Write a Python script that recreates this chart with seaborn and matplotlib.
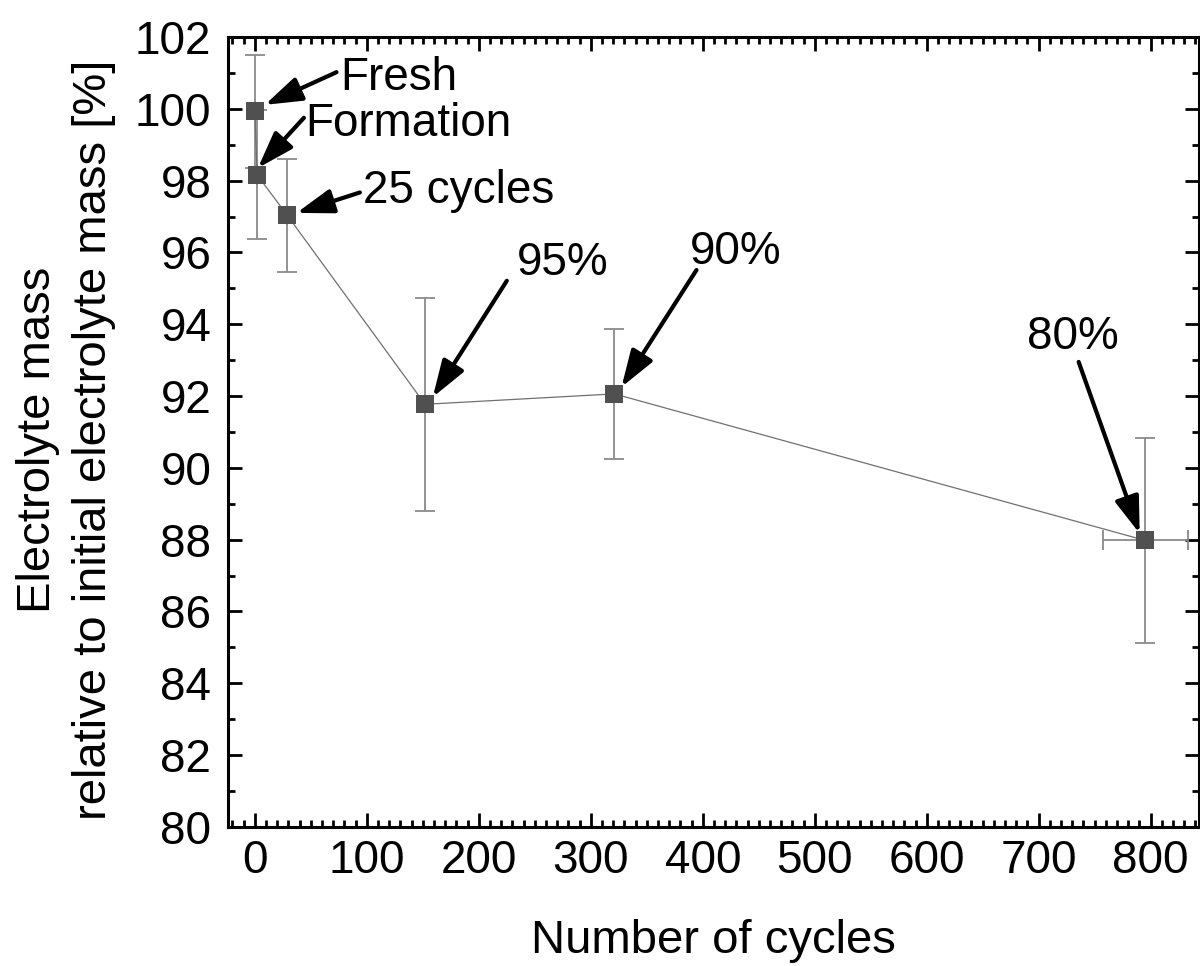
import matplotlib
matplotlib.use("Agg")
import matplotlib.pyplot as plt
from matplotlib.ticker import MultipleLocator
import seaborn as sns
import pandas as pd

# Measured electrolyte mass over ageing (mean and spread)
cycles = [0, 2, 29, 152, 321, 795]
mass_pct = [99.93, 98.16, 97.03, 91.77, 92.06, 87.98]
mass_err = [1.57, 1.80, 1.58, 2.96, 1.80, 2.85]
cycles_err = [0, 0, 0, 0, 0, 38]

# Labels attached to each state, with text and arrow-tail positions (data units)
state_labels = ["Fresh", "Formation", "25 cycles", "95%", "90%", "80%"]
label_pos = [(75.9, 100.86), (44.6, 99.58), (96.7, 97.71),
             (233.6, 95.70), (388.4, 96.01), (690.0, 93.64)]
arrow_tail = [(72.9, 101.02), (43.8, 99.75), (93.8, 97.67),
              (225.0, 95.21), (394.4, 95.51), (735.7, 92.95)]
arrow_head = [(8.9, 100.11), (2.7, 98.35), (37.2, 97.10),
              (158.9, 91.97), (327.4, 92.25), (790.2, 88.17)]

df = pd.DataFrame({"cycles": cycles, "mass": mass_pct})

sns.set_theme(style="ticks")
plt.rcParams["font.family"] = ["Liberation Sans", "DejaVu Sans"]
plt.rcParams["text.color"] = "black"
plt.rcParams["axes.labelcolor"] = "black"
plt.rcParams["xtick.color"] = "black"
plt.rcParams["ytick.color"] = "black"

fig = plt.figure(figsize=(12, 9.66), dpi=100)
ax = fig.add_axes([0.19, 0.144, 0.809, 0.8177])

ax.errorbar(cycles, mass_pct, yerr=mass_err, xerr=cycles_err, fmt="none",
            ecolor="#8a8a8a", elinewidth=1.3, capsize=7, capthick=1.3, zorder=2)
sns.lineplot(data=df, x="cycles", y="mass", ax=ax, color="#707070", lw=0.9,
             marker="s", markersize=12.5, markerfacecolor="#505050",
             markeredgecolor="#505050", markeredgewidth=0, sort=False, zorder=3)

for txt, tp, tail, head in zip(state_labels, label_pos, arrow_tail, arrow_head):
    ax.text(tp[0], tp[1], txt, fontsize=33, ha="left", va="center",
            color="black", zorder=5)
    ax.annotate("", xy=head, xytext=tail,
                arrowprops=dict(arrowstyle="-|>,head_length=0.75,head_width=0.25",
                                color="black", lw=3.0, shrinkA=0, shrinkB=0,
                                mutation_scale=30),
                zorder=4)

ax.set_xlim(-24, 843)
ax.set_ylim(80, 102)
ax.xaxis.set_major_locator(MultipleLocator(100))
ax.xaxis.set_minor_locator(MultipleLocator(10))
ax.yaxis.set_major_locator(MultipleLocator(2))
ax.yaxis.set_minor_locator(MultipleLocator(1))

for s in ax.spines.values():
    s.set_visible(True)
    s.set_linewidth(2.2)
    s.set_color("black")

ax.tick_params(which="both", direction="in", top=True, right=True,
               color="black", width=2, labelcolor="black")
ax.tick_params(which="major", length=10, labelsize=33)
ax.tick_params(which="minor", length=5)
ax.tick_params(axis="y", which="major", pad=12)
ax.tick_params(axis="x", which="major", pad=9)

ax.set_xlabel("Number of cycles", fontsize=34, color="black")
ax.set_ylabel("Electrolyte mass\nrelative to initial electrolyte mass [%]",
              fontsize=34, linespacing=1.35, color="black")
ax.xaxis.set_label_coords(0.5, -0.116)
ax.yaxis.set_label_coords(-0.167, 0.49)
ax.yaxis.label.set_va("center")
ax.xaxis.label.set_va("top")
ax.grid(False)

fig.savefig("out.png", dpi=100)
